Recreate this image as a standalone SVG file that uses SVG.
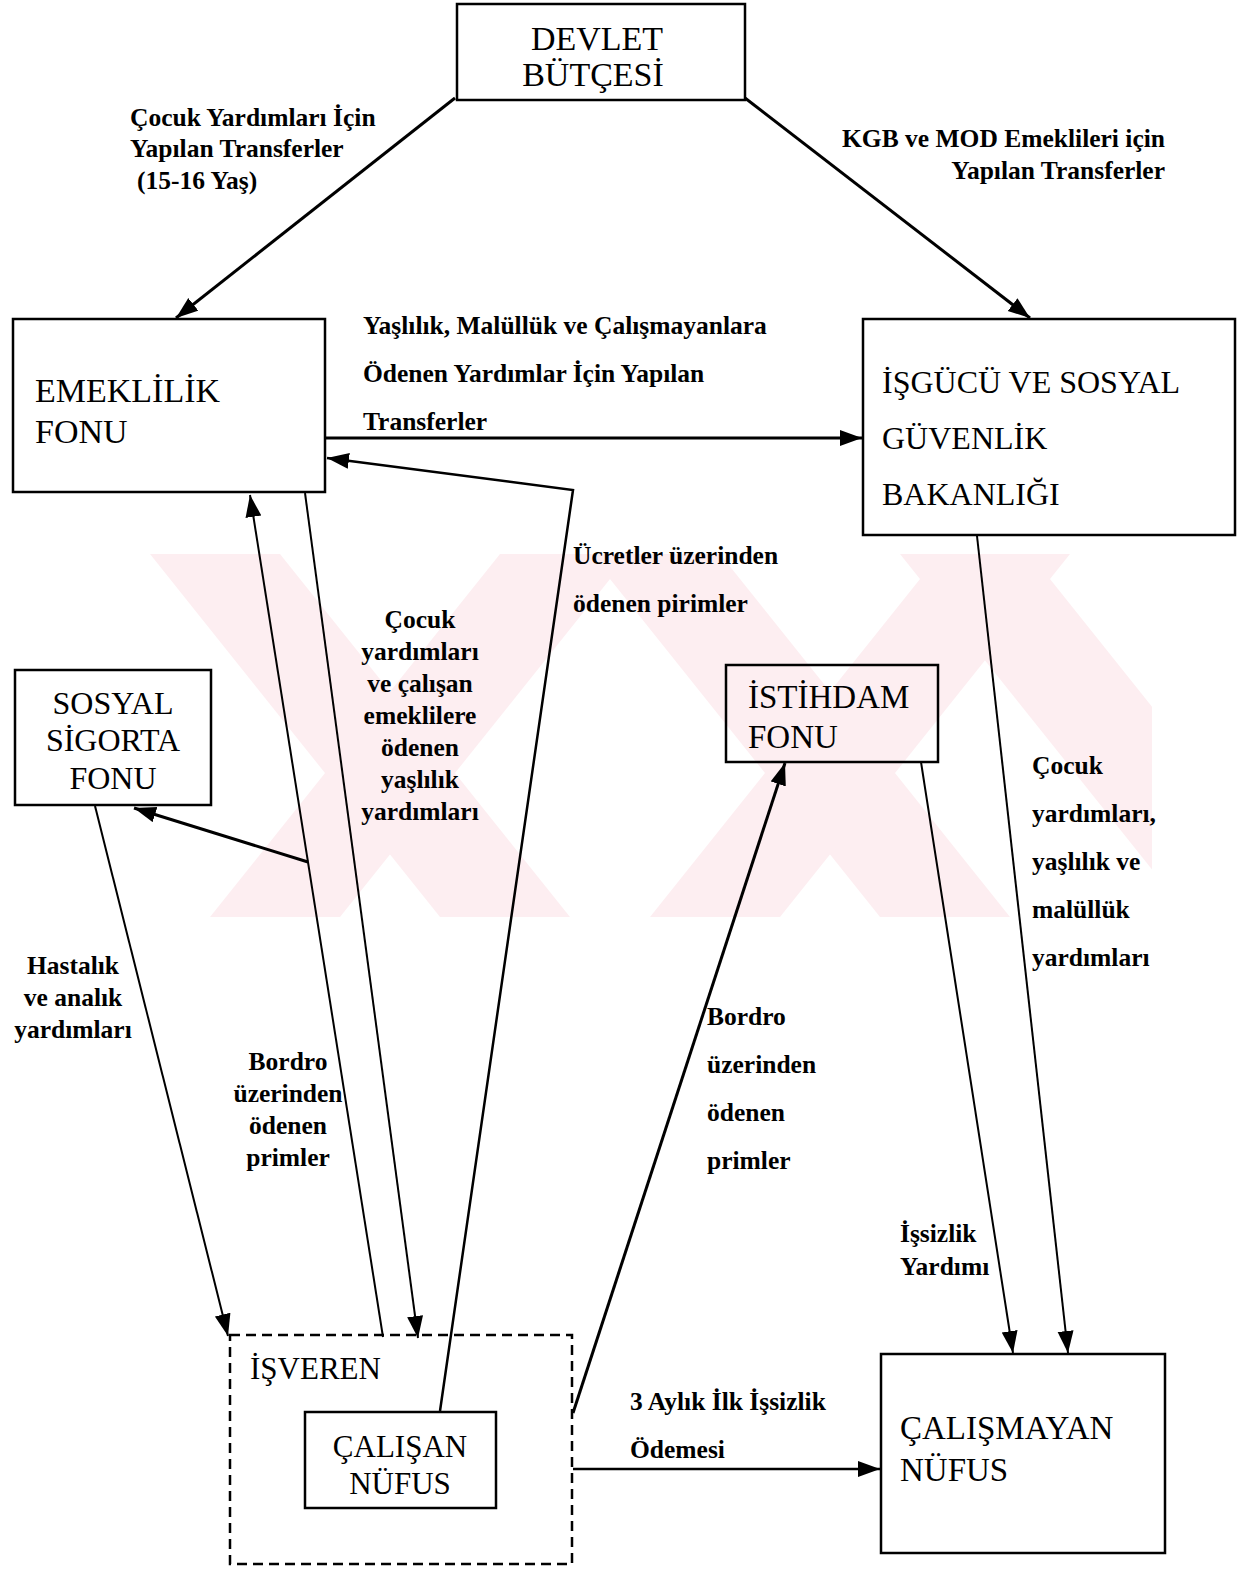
<svg xmlns="http://www.w3.org/2000/svg" width="1238" height="1569" viewBox="0 0 1238 1569">
<style>
.box{fill:none;stroke:#000;stroke-width:2.5}
.dash{fill:none;stroke:#000;stroke-width:2.5;stroke-dasharray:10,6}
.node{font-family:"Liberation Serif","Times New Roman",serif;fill:#000}
.lbl{font-family:"Liberation Serif","Times New Roman",serif;font-size:25.5px;font-weight:bold;fill:#000}
.thick{fill:none;stroke:#000;stroke-width:3}
.mid{fill:none;stroke:#000;stroke-width:2.5}
.thin{fill:none;stroke:#000;stroke-width:2}
.wm{fill:#fdeef1}
</style>
<defs>
<marker id="ah" markerUnits="userSpaceOnUse" markerWidth="24" markerHeight="18" refX="22" refY="8" orient="auto">
<path d="M0,0 L22,8 L0,16 z" fill="#000"/>
</marker>
<clipPath id="wmclip"><rect x="148" y="554" width="1004" height="363"/></clipPath>
</defs>
<rect width="1238" height="1569" fill="#fff"/>
<g id="watermark" clip-path="url(#wmclip)">
<polygon class="wm" points="150,554 280,554 570,917 440,917"/>
<polygon class="wm" points="590,554 720,554 1010,917 880,917"/>
<polygon class="wm" points="900,554 1030,554 1320,917 1190,917"/>
<polygon class="wm" points="210,917 340,917 630,554 500,554"/>
<polygon class="wm" points="650,917 780,917 1070,554 940,554"/>
</g>
<g id="connectors">
<line class="thick" x1="455" y1="98" x2="176" y2="318" marker-end="url(#ah)"/>
<line class="thick" x1="745" y1="98" x2="1030" y2="318" marker-end="url(#ah)"/>
<line class="thick" x1="325" y1="438" x2="862" y2="438" marker-end="url(#ah)"/>
<polyline class="mid" points="440,1411 573,490 327,458" marker-end="url(#ah)"/>
<line class="thin" x1="383" y1="1337" x2="250" y2="495" marker-end="url(#ah)"/>
<line class="thin" x1="305" y1="493" x2="418" y2="1338" marker-end="url(#ah)"/>
<line class="thick" x1="308" y1="862" x2="134" y2="808" marker-end="url(#ah)"/>
<line class="thin" x1="95" y1="806" x2="228" y2="1336" marker-end="url(#ah)"/>
<line class="thick" x1="573" y1="1413" x2="785" y2="763" marker-end="url(#ah)"/>
<line class="thin" x1="921" y1="762" x2="1013" y2="1353" marker-end="url(#ah)"/>
<line class="thin" x1="977" y1="536" x2="1068" y2="1353" marker-end="url(#ah)"/>
<line class="mid" x1="573" y1="1469" x2="880" y2="1469" marker-end="url(#ah)"/>
</g>
<g id="labels">
<text class="lbl" x="130" y="126">Çocuk Yardımları İçin</text>
<text class="lbl" x="130" y="157">Yapılan Transferler</text>
<text class="lbl" x="137" y="189">(15-16 Yaş)</text>
<text class="lbl" x="1165" y="147" text-anchor="end">KGB ve MOD Emeklileri için</text>
<text class="lbl" x="1165" y="179" text-anchor="end">Yapılan Transferler</text>
<text class="lbl" x="363" y="334">Yaşlılık, Malüllük ve Çalışmayanlara</text>
<text class="lbl" x="363" y="382">Ödenen Yardımlar İçin Yapılan</text>
<text class="lbl" x="363" y="430">Transferler</text>
<text class="lbl" x="573" y="564">Ücretler üzerinden</text>
<text class="lbl" x="573" y="612">ödenen pirimler</text>
<g text-anchor="middle">
<text class="lbl" x="420" y="628">Çocuk</text>
<text class="lbl" x="420" y="660">yardımları</text>
<text class="lbl" x="420" y="692">ve çalışan</text>
<text class="lbl" x="420" y="724">emeklilere</text>
<text class="lbl" x="420" y="756">ödenen</text>
<text class="lbl" x="420" y="788">yaşlılık</text>
<text class="lbl" x="420" y="820">yardımları</text>
<text class="lbl" x="73" y="974">Hastalık</text>
<text class="lbl" x="73" y="1006">ve analık</text>
<text class="lbl" x="73" y="1038">yardımları</text>
<text class="lbl" x="288" y="1070">Bordro</text>
<text class="lbl" x="288" y="1102">üzerinden</text>
<text class="lbl" x="288" y="1134">ödenen</text>
<text class="lbl" x="288" y="1166">primler</text>
</g>
<text class="lbl" x="707" y="1025">Bordro</text>
<text class="lbl" x="707" y="1073">üzerinden</text>
<text class="lbl" x="707" y="1121">ödenen</text>
<text class="lbl" x="707" y="1169">primler</text>
<text class="lbl" x="900" y="1242">İşsizlik</text>
<text class="lbl" x="900" y="1275">Yardımı</text>
<text class="lbl" x="1032" y="774">Çocuk</text>
<text class="lbl" x="1032" y="822">yardımları,</text>
<text class="lbl" x="1032" y="870">yaşlılık ve</text>
<text class="lbl" x="1032" y="918">malüllük</text>
<text class="lbl" x="1032" y="966">yardımları</text>
<text class="lbl" x="630" y="1410">3 Aylık İlk İşsizlik</text>
<text class="lbl" x="630" y="1458">Ödemesi</text>
</g>
<g id="devlet">
<rect class="box" x="457" y="4" width="288" height="96"/>
<text class="node" font-size="34" x="597" y="50" text-anchor="middle">DEVLET</text>
<text class="node" font-size="34" x="593" y="86" text-anchor="middle">BÜTÇESİ</text>
</g>
<g id="emeklilik">
<rect class="box" x="13" y="319" width="312" height="173"/>
<text class="node" font-size="34" x="35" y="402">EMEKLİLİK</text>
<text class="node" font-size="34" x="35" y="443">FONU</text>
</g>
<g id="isgucu">
<rect class="box" x="863" y="319" width="372" height="216"/>
<text class="node" font-size="32" x="882" y="393">İŞGÜCÜ VE SOSYAL</text>
<text class="node" font-size="32" x="882" y="449">GÜVENLİK</text>
<text class="node" font-size="32" x="882" y="505">BAKANLIĞI</text>
</g>
<g id="sosyal">
<rect class="box" x="15" y="670" width="196" height="135"/>
<text class="node" font-size="32" x="113" y="714" text-anchor="middle">SOSYAL</text>
<text class="node" font-size="32" x="113" y="751" text-anchor="middle">SİGORTA</text>
<text class="node" font-size="32" x="113" y="789" text-anchor="middle">FONU</text>
</g>
<g id="istihdam">
<rect class="box" x="726" y="665" width="212" height="97"/>
<text class="node" font-size="33" x="748" y="708">İSTİHDAM</text>
<text class="node" font-size="33" x="748" y="748">FONU</text>
</g>
<g id="isveren">
<rect class="dash" x="230" y="1335" width="342" height="229"/>
<text class="node" font-size="31" x="250" y="1379">İŞVEREN</text>
</g>
<g id="calisan">
<rect class="box" x="305" y="1412" width="191" height="96"/>
<text class="node" font-size="31" x="400" y="1457" text-anchor="middle">ÇALIŞAN</text>
<text class="node" font-size="31" x="400" y="1494" text-anchor="middle">NÜFUS</text>
</g>
<g id="calismayan">
<rect class="box" x="881" y="1354" width="284" height="199"/>
<text class="node" font-size="33" x="900" y="1439">ÇALIŞMAYAN</text>
<text class="node" font-size="33" x="900" y="1481">NÜFUS</text>
</g>
</svg>
